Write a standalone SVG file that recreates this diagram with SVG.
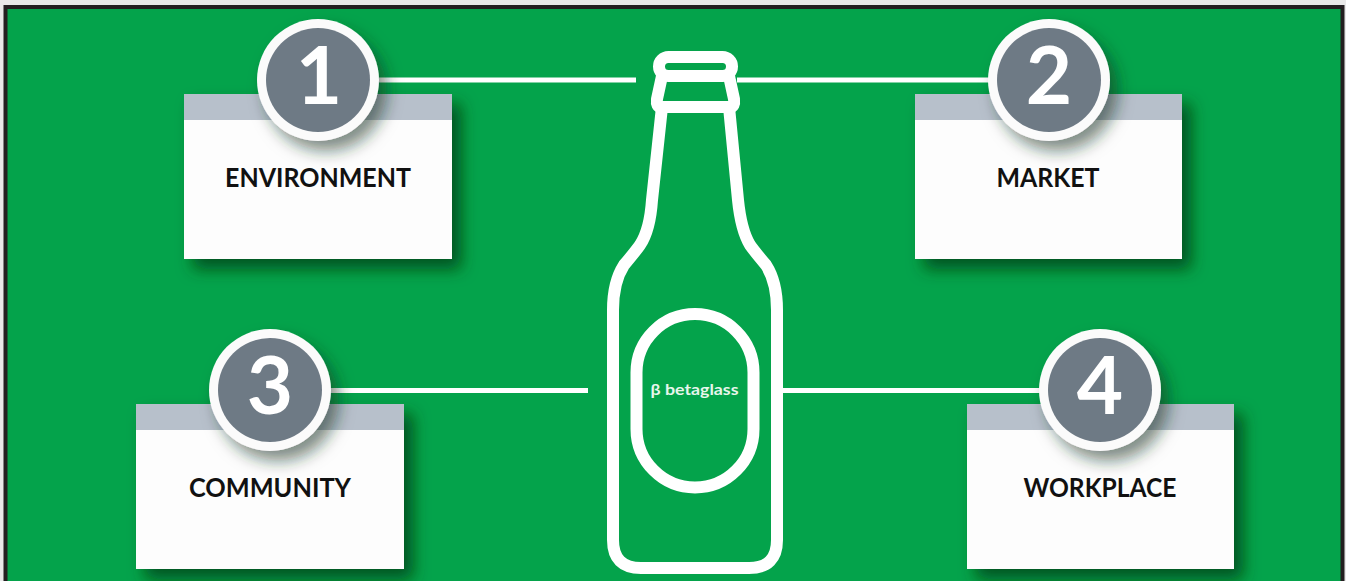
<svg xmlns="http://www.w3.org/2000/svg" width="1346" height="581" viewBox="0 0 1346 581">
<defs>
<filter id="shadow" x="-20%" y="-20%" width="145%" height="145%"><feDropShadow dx="9" dy="10" stdDeviation="8" flood-color="#003a18" flood-opacity="0.75"/></filter>
<filter id="dshadow" x="-30%" y="-30%" width="170%" height="170%"><feDropShadow dx="8" dy="10" stdDeviation="8" flood-color="#10301e" flood-opacity="0.55"/></filter>
</defs>
<style>
.card{fill:#fdfdfd}.band{fill:#b7c0cb}
.ring{fill:#fbfbfb}.disc{fill:#6e7a85}
.num{font:700 80px Lato,"Open Sans",sans-serif;fill:#fff;text-anchor:middle}
.lab{font:700 27px Lato,"Open Sans",sans-serif;fill:#111;text-anchor:middle}
.ln{stroke:#fff;stroke-width:5;fill:none}
.b{stroke:#fff;fill:none;stroke-width:12;stroke-linejoin:round}
</style>
<rect width="1346" height="581" fill="#e9e9e9"/>
<rect x="5.500" y="7" width="1337" height="580" fill="#04a34b" stroke="#231f20" stroke-width="4"/>
<g id="connectors">
<path class="ln" d="M379 80H636M737 80H990M330 390.500H588M783 390.500H1040"/>
</g>
<g id="bottle">
<rect class="b" x="659" y="57" width="73" height="19" rx="9.500"/>
<path class="b" d="M662 76L657 99Q656 107 661 107H730Q735 107 734 99L729 76"/>
<path class="b" d="M662 107L652 200Q650 230 640 245Q635 252 624 265Q613 282 613 310V540Q613 568 641 568H749Q777 568 777 540V310Q777 282 766 265Q755 252 750 245Q741 230 738 200L729 107"/>
<rect class="b" x="636.500" y="314" width="117" height="173.500" rx="58.500"/>
<text x="694.500" y="395" font-family="Lato,'Open Sans',sans-serif" font-size="15" font-weight="700" fill="#e8f6ec" text-anchor="middle" textLength="88" lengthAdjust="spacingAndGlyphs">β betaglass</text>
</g>
<g id="node1"><g filter="url(#shadow)"><rect class="card" x="184" y="94" width="268" height="165"/></g><rect class="band" x="184" y="94" width="268" height="26"/>
<text class="lab" x="318" y="187" textLength="186" lengthAdjust="spacingAndGlyphs">ENVIRONMENT</text>
<g filter="url(#dshadow)"><circle class="ring" cx="318" cy="80" r="61"/></g><circle class="disc" cx="318" cy="80" r="52"/><text class="num" x="319" y="104">1</text></g>
<g id="node2"><g filter="url(#shadow)"><rect class="card" x="915" y="94" width="267" height="165"/></g><rect class="band" x="915" y="94" width="267" height="26"/>
<text class="lab" x="1048" y="187" textLength="103" lengthAdjust="spacingAndGlyphs">MARKET</text>
<g filter="url(#dshadow)"><circle class="ring" cx="1049" cy="80" r="61"/></g><circle class="disc" cx="1049" cy="80" r="52"/><text class="num" x="1049" y="104">2</text></g>
<g id="node3"><g filter="url(#shadow)"><rect class="card" x="136" y="404" width="268" height="165"/></g><rect class="band" x="136" y="404" width="268" height="26"/>
<text class="lab" x="270" y="497" textLength="162" lengthAdjust="spacingAndGlyphs">COMMUNITY</text>
<g filter="url(#dshadow)"><circle class="ring" cx="270" cy="390" r="61"/></g><circle class="disc" cx="270" cy="390" r="52"/><text class="num" x="270" y="414">3</text></g>
<g id="node4"><g filter="url(#shadow)"><rect class="card" x="967" y="404" width="267" height="165"/></g><rect class="band" x="967" y="404" width="267" height="26"/>
<text class="lab" x="1100" y="497" textLength="153" lengthAdjust="spacingAndGlyphs">WORKPLACE</text>
<g filter="url(#dshadow)"><circle class="ring" cx="1100" cy="390" r="61"/></g><circle class="disc" cx="1100" cy="390" r="52"/><text class="num" x="1100" y="414">4</text></g>
</svg>
